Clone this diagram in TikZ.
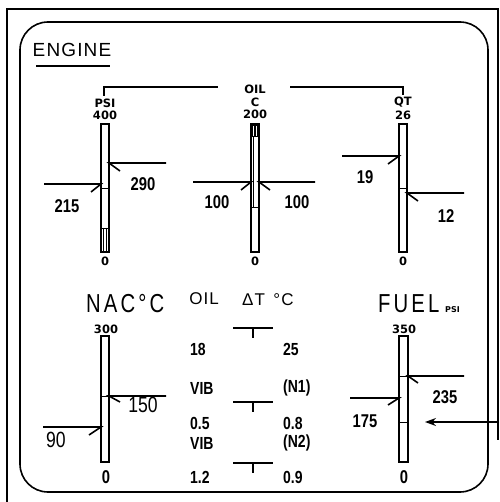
\documentclass[tikz,border=0pt]{standalone}
\usepackage{fontspec}
\setmainfont{Liberation Sans}
\newfontfamily\dialfont[FakeStretch=0.78, LetterSpace=12]{Liberation Sans}
\newfontfamily\headfont[LetterSpace=6]{Liberation Sans}
\newfontfamily\valfont[FakeStretch=0.8]{Liberation Sans}
\newfontfamily\scalefont{DejaVu Sans}
\usetikzlibrary{arrows.meta}
\tikzset{
  frame/.style={draw=black, line width=1.6pt},
  bar/.style={draw=black, line width=1.4pt, fill=white},
  ptr/.style={draw=black, line width=1.6pt},
  hatch/.style={draw=black, line width=0.8pt},
  %
  lbl/.style={inner sep=0pt, text=black},
  scl/.style={lbl, font=\scalefont\bfseries\fontsize{11.5}{11.5}\selectfont},
  val/.style={lbl, font=\valfont\bfseries\fontsize{18.5}{18.5}\selectfont},
  mid/.style={lbl, font=\valfont\bfseries\fontsize{17.5}{17.5}\selectfont},
  big/.style={lbl, font=\valfont\fontsize{22}{22}\selectfont},
  dial/.style={lbl, font=\dialfont\fontsize{26}{26}\selectfont},
}
\begin{document}
\begin{tikzpicture}[x=1pt, y=-1pt]

  \useasboundingbox (0,0) rectangle (499,502);

  % panel frames
  \draw[frame] (7,502) -- (7,9) -- (498,9) -- (498,440);
  \draw[frame, rounded corners=28pt] (20,22) rectangle (488,492);

  \node[lbl, font=\headfont\fontsize{19}{19}\selectfont] (engine) at (72,50) {ENGINE};
  \draw[frame] (36,66) -- (110,66);

  % upper gauges
  \node[scl] (psi) at (105,103) {PSI};
  \node[scl] (psimax) at (105,115) {400};
  \node[scl] (oil) at (255,89) {OIL};
  \node[scl] (oilc) at (255,102) {C};
  \node[scl] (oilmax) at (255,114) {200};
  \node[scl] (qt) at (403,102) {QT};
  \node[scl] (qtmax) at (403,115) {26};
  \draw[ptr] (104,96) -- (104,87) -- (218,87);
  \draw[ptr] (290,87) -- (403,87) -- (403,95);

  \draw[bar] (101,124) rectangle (109,252);
  \draw[hatch] (101,188) -- (109,188) (101,228) -- (109,228)
    (103.5,228) -- (103.5,252) (106.5,228) -- (106.5,252);
  \draw[bar] (251,124) rectangle (259,252);
  \fill (251,124) rectangle (259,137);
  \draw[white, line width=0.6pt] (253.7,126) -- (253.7,136) (256.3,126) -- (256.3,136);
  \draw[hatch] (253,137) -- (253,207) (251,207) -- (259,207);
  \draw[bar] (399,124) rectangle (407,252);
  \draw[hatch] (399,188) -- (407,188);

  \node[scl] (psimin) at (105,261) {0};
  \node[scl] (oilmin) at (255,261) {0};
  \node[scl] (qtmin) at (403,261) {0};

  \draw[ptr] (44,184) -- (101,184) -- (91,192);
  \draw[ptr] (166,163) -- (109,163) -- (120,171);
  \node[val] (psilo) at (67,206) {215};
  \node[val] (psihi) at (143,184) {290};

  \draw[ptr] (193,182) -- (251,182) -- (241,190);
  \draw[ptr] (315,182) -- (259,182) -- (270,190);
  \node[val] (oillo) at (217,202) {100};
  \node[val] (oilhi) at (297,202) {100};

  \draw[ptr] (342,156) -- (399,156) -- (388,164);
  \draw[ptr] (464,193) -- (407,193) -- (418,201);
  \node[val] (qthi) at (365,177) {19};
  \node[val] (qtlo) at (446,216) {12};

  % lower gauges
  \node[dial, anchor=west] (nac) at (86,304) {NAC°C};
  \node[lbl, font=\headfont\fontsize{17}{17}\selectfont] (vib) at (204,299) {OIL};
  \node[lbl, font=\headfont\fontsize{17}{17}\selectfont, anchor=west] (dt) at (242,300) {ΔT\,\,\,°C};
  \node[dial, anchor=west] (fuel) at (378,304) {FUEL};
  \node[scl, font=\scalefont\bfseries\fontsize{8}{8}\selectfont, anchor=west] (fuelpsi) at (445,310) {PSI};

  \node[scl] (nacmax) at (106,329) {300};
  \node[scl] (fuelmax) at (404,329) {350};
  \draw[bar] (101,336) rectangle (109,462);
  \draw[hatch] (101,396) -- (109,396);
  \draw[bar] (399,336) rectangle (408,462);
  \draw[hatch] (399,376) -- (408,376) (399,422) -- (408,422);
  \node[val] (nacmin) at (106,477) {0};
  \node[val] (fuelmin) at (404,477) {0};

  \draw[ptr] (43,427) -- (101,427) -- (89,435);
  \draw[ptr] (166,396) -- (109,396) -- (120,402);
  \node[big] (naclo) at (56,440) {90};
  \node[big] (nachi) at (143,405) {150};

  \draw[ptr] (350,398) -- (399,398) -- (388,405);
  \draw[ptr] (464,376) -- (408,376) -- (418,383);
  \node[val] (fuello) at (365,421) {175};
  \node[val] (fuelhi) at (445,397) {235};

  \coordinate (tail) at (499,422);
  \coordinate (tip) at (425,422);
  \draw[ptr, line width=1.3pt, -{Stealth[length=11pt, width=8pt]}] (tail) -- (tip);

  % delta T column
  \foreach \y in {328,402,463}
    \draw[ptr] (233,\y) -- (273,\y) (253,\y) -- (253,\y+10);
  \node[mid, anchor=west] (oil1) at (190,349) {18};
  \node[mid, anchor=west] (vib1) at (190,388) {VIB};
  \node[mid, anchor=west] (oil2) at (190,423) {0.5};
  \node[mid, anchor=west] (vib2) at (190,443) {VIB};
  \node[mid, anchor=west] (oil3) at (190,477) {1.2};
  \node[mid, anchor=west] (dt1) at (283,349) {25};
  \node[mid, anchor=west] (n1) at (283,388) {(N1)};
  \node[mid, anchor=west] (dt2) at (283,423) {0.8};
  \node[mid, anchor=west] (n2) at (283,443) {(N2)};
  \node[mid, anchor=west] (dt3) at (283,477) {0.9};

\end{tikzpicture}
\end{document}
